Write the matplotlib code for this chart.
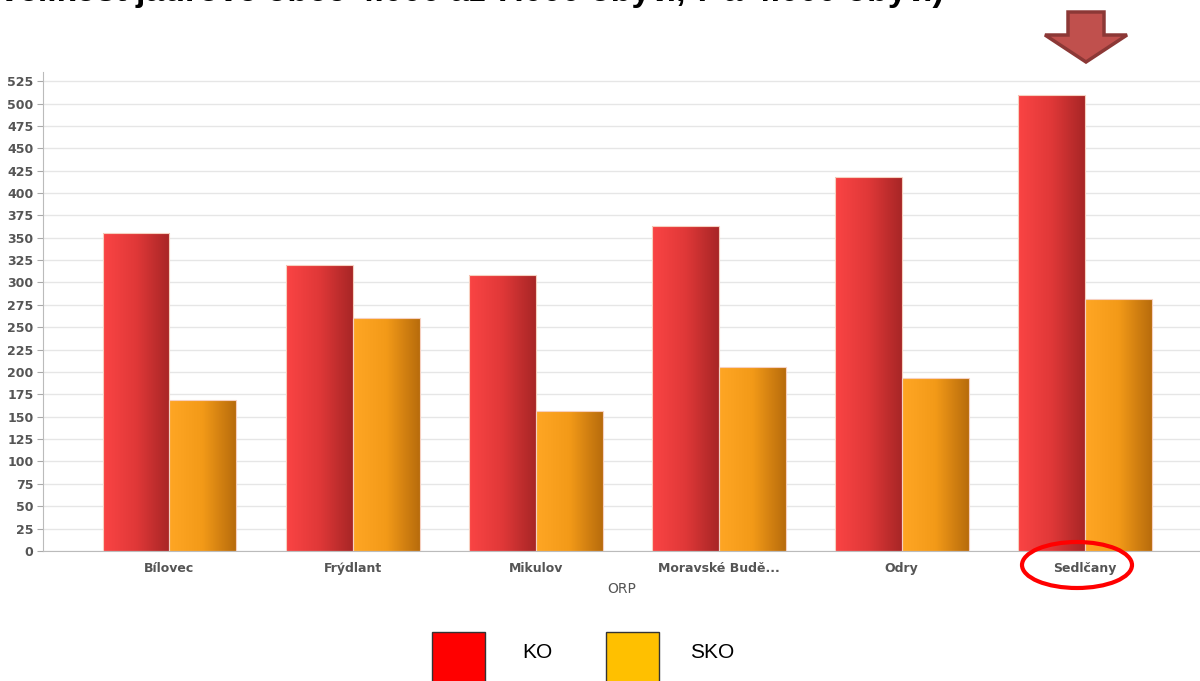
import numpy as np
import matplotlib

matplotlib.use("Agg")
import matplotlib.pyplot as plt
from matplotlib.colors import LinearSegmentedColormap
from matplotlib.patches import Ellipse, Polygon, Rectangle

# values
categories = ["Bílovec", "Frýdlant", "Mikulov", "Moravské Budě...", "Odry", "Sedlčany"]
ko = [355, 320, 308, 363, 418, 510]
sko = [169, 260, 156, 205, 193, 282]
yticks = list(range(0, 526, 25))

title = "velikost jádrové obce 4.000 až 7.000 obyv., 7 a 4.000 obyv.)"
gray = "#555555"

fig = plt.figure(figsize=(12, 6.81), dpi=100)
ax = fig.add_axes([0.036, 0.191, 0.964, 0.703])

x = np.arange(len(categories))
w = 0.366
red_cmap = LinearSegmentedColormap.from_list("red", ["#fa4444", "#e03838", "#a82626"])
org_cmap = LinearSegmentedColormap.from_list("org", ["#ffa624", "#f39a18", "#b86c0c"])
grad = np.linspace(0, 1, 64).reshape(1, -1)


def gradient_bars(xs, vals, cmap):
    bars = ax.bar(xs, vals, w, color="none", edgecolor="#f6d0c0", linewidth=0.8, zorder=3)
    for b in bars:
        x0, y0 = b.get_x(), b.get_y()
        im = ax.imshow(grad, cmap=cmap, aspect="auto", zorder=2,
                       extent=(x0, x0 + b.get_width(), y0, y0 + b.get_height()))
        im.set_clip_path(b)
    return bars


gradient_bars(x - w / 2, ko, red_cmap)
gradient_bars(x + w / 2, sko, org_cmap)

ax.set_xlim(-0.69, 5.63)
ax.set_ylim(0, 535)
ax.set_yticks(yticks)
ax.set_xticks(x)
ax.set_xticklabels(categories)
ax.grid(axis="y", color="#e6e6e6", linewidth=1, zorder=0)
ax.set_axisbelow(True)
for s in ["top", "right"]:
    ax.spines[s].set_visible(False)
ax.spines["left"].set_color("#bbbbbb")
ax.spines["bottom"].set_color("#bbbbbb")
ax.tick_params(axis="y", colors=gray, labelsize=9, length=4, color="#aaaaaa", pad=3)
ax.tick_params(axis="x", colors=gray, labelsize=9, length=0, pad=8)
for lbl in ax.get_xticklabels() + ax.get_yticklabels():
    lbl.set_fontweight("bold")
ax.set_xlabel("ORP", color=gray, fontsize=10, labelpad=5)

# title, cut off at the top edge as in the slide
fig.text(0.0, 1 - 1 / 681, title, fontsize=24.5, fontweight="bold",
         family="Liberation Sans", va="baseline", ha="left")

# highlight arrow above Sedlčany
W, H = 1200, 681
arrow_px = [(1068, 12), (1104, 12), (1104, 35), (1127, 35), (1086, 62), (1045, 35), (1068, 35)]
fig.patches.append(Polygon([(px / W, 1 - py / H) for px, py in arrow_px], closed=True,
                           transform=fig.transFigure, facecolor="#c0504d",
                           edgecolor="#8c3836", linewidth=2.5))
fig.patches.append(Ellipse((1077 / W, 1 - 565 / H), 110 / W, 46 / H, transform=fig.transFigure,
                           facecolor="none", edgecolor="#ff0000", linewidth=3))

# legend boxes at the bottom
for x0, col, lab, tx in [(432, "#ff0000", "KO", 537), (606, "#ffc000", "SKO", 712)]:
    fig.patches.append(Rectangle((x0 / W, 1 - 690 / H), 53 / W, 58 / H,
                                 transform=fig.transFigure, facecolor=col,
                                 edgecolor="#333333", linewidth=1))
    fig.text(tx / W, 1 - 652 / H, lab, fontsize=15, family="Liberation Sans",
             ha="center", va="center")

fig.savefig("out.png", dpi=100)
